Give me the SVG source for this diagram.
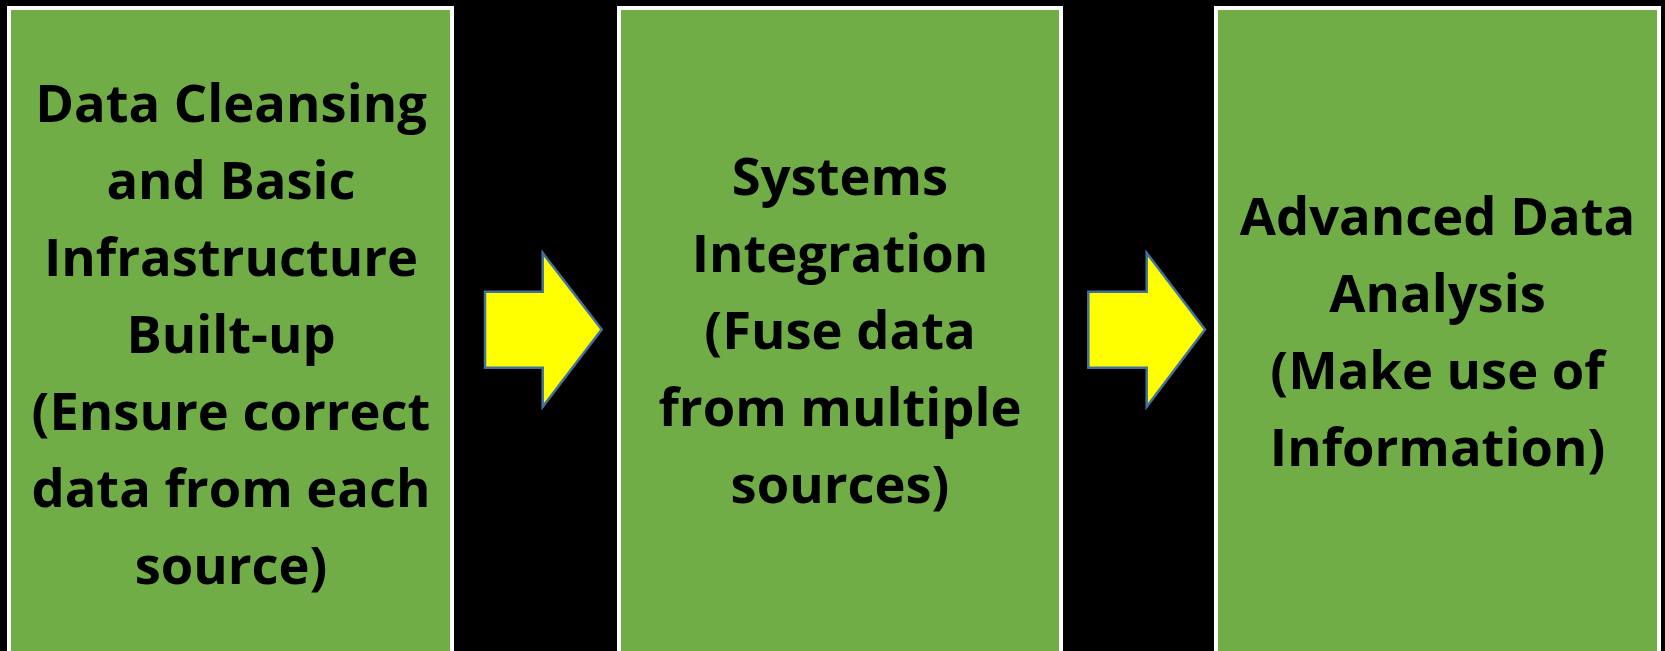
<svg xmlns="http://www.w3.org/2000/svg" width="1665" height="651" viewBox="0 0 1665 651">
<style>
.box{fill:#70AD47;stroke:#FFFFFF;stroke-width:4}
.arrow{fill:#FFFF00;stroke:#41719C;stroke-width:2.5;stroke-linejoin:miter}
.t{font-family:"Open Sans","Liberation Sans",sans-serif;font-weight:bold;font-size:52.5px;fill:#000;text-anchor:middle;font-variant-ligatures:none}
</style>
<rect x="0" y="0" width="1665" height="651" fill="#000"/>
<g id="node1">
<rect class="box" x="9" y="8" width="443" height="660"/>
<text class="t"><tspan x="231" y="122">Data Cleansing</tspan><tspan x="231" y="199">and Basic</tspan><tspan x="231" y="276">Infrastructure</tspan><tspan x="231" y="353">Built-up</tspan><tspan x="231" y="430">(Ensure correct</tspan><tspan x="231" y="507">data from each</tspan><tspan x="231" y="584">source)</tspan></text>
</g>
<g id="node2">
<rect class="box" x="619" y="8" width="442" height="660"/>
<text class="t"><tspan x="840" y="195">Systems</tspan><tspan x="840" y="272">Integration</tspan><tspan x="840" y="349">(Fuse data</tspan><tspan x="840" y="426">from multiple</tspan><tspan x="840" y="503">sources)</tspan></text>
</g>
<g id="node3">
<rect class="box" x="1216" y="8" width="443" height="660"/>
<text class="t"><tspan x="1437.5" y="235">Advanced Data</tspan><tspan x="1437.5" y="312">Analysis</tspan><tspan x="1437.5" y="389">(Make use of</tspan><tspan x="1437.5" y="466">Information)</tspan></text>
</g>
<g id="connectors">
<polygon class="arrow" points="485,291.7 542.7,291.7 542.7,253 601.7,329.5 542.7,406.7 542.7,367.7 485,367.7"/>
<polygon class="arrow" points="1088.3,291.7 1146.7,291.7 1146.7,253 1205,329.5 1146.7,406.7 1146.7,367.7 1088.3,367.7"/>
</g>
</svg>
